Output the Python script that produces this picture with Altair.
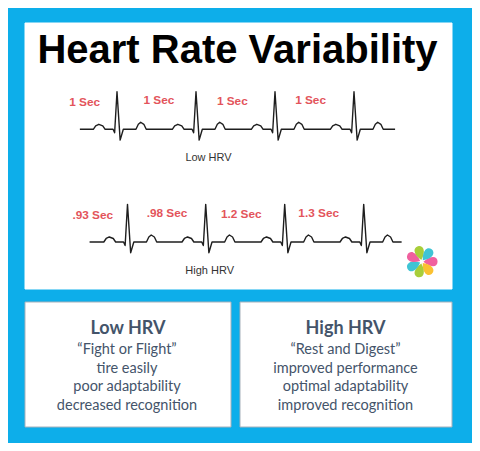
import altair as alt
import pandas as pd

# ---------------- data ----------------
title_text = "Heart Rate Variability"

# one ECG beat: time relative to the R peak (s) and amplitude (mV)
beat_t = [-0.30, -0.27, -0.23, -0.18, -0.15, -0.05, -0.03, 0.00, 0.04, 0.08, 0.24, 0.27, 0.30, 0.34, 0.37]
beat_v = [0.00, 0.14, 0.20, 0.14, 0.00, 0.00, -0.14, 1.50, -0.43, 0.00, 0.00, 0.20, 0.28, 0.20, 0.00]

low_r_times = [0.0, 1.0, 2.0, 3.0]
low_span = [-0.47, 3.52]
high_r_times = [0.0, 0.99, 1.99, 2.99]
high_span = [-0.48, 3.47]

low_labels = ["1 Sec", "1 Sec", "1 Sec", "1 Sec"]
low_label_t = [-0.41, 0.53, 1.46, 2.45]
low_label_v = [0.93, 1.00, 0.97, 1.00]
high_labels = [".93 Sec", ".98 Sec", "1.2 Sec", "1.3 Sec"]
high_label_t = [-0.44, 0.50, 1.44, 2.42]
high_label_v = [0.93, 1.00, 0.95, 1.00]

trace_captions = ["Low HRV", "High HRV"]

box_headings = ["Low HRV", "High HRV"]
low_box_lines = ["\u201cFight or Flight\u201d", "tire easily", "poor adaptability", "decreased recognition"]
high_box_lines = ["\u201cRest and Digest\u201d", "improved performance", "optimal adaptability", "improved recognition"]

petal_angles = [0, 51, 103, 154, 206, 257, 309]
petal_colors = ["#F0609E", "#FBC131", "#A8CE3A", "#3FC4D4", "#F0609E", "#A8CE3A", "#3FC4D4"]

# ---------------- layout / style ----------------
W, H = 464, 435
X0, Y0 = 8, 8
BLUE = "#0DAEEA"
BOX_TEXT = "#44546A"
RED = "#E3545B"

PX_PER_S = 79.0
PX_PER_MV = 25.07
LOW_ORIGIN = (117.0, 129.3)    # first R peak x, baseline y
HIGH_ORIGIN = (127.5, 242.0)

CX = alt.Scale(domain=[X0, X0 + W], zero=False, nice=False)
CY = alt.Scale(domain=[Y0, Y0 + H], reverse=True, zero=False, nice=False)


def ecg_scales(origin):
    ox, oy = origin
    xs = alt.Scale(domain=[(X0 - ox) / PX_PER_S, (X0 + W - ox) / PX_PER_S], zero=False, nice=False)
    ys = alt.Scale(domain=[(oy - (Y0 + H)) / PX_PER_MV, (oy - Y0) / PX_PER_MV], zero=False, nice=False)
    return xs, ys


def trace_df(r_times, span):
    ts, vs = [span[0]], [0.0]
    for r in r_times:
        for t, v in zip(beat_t, beat_v):
            ts.append(r + t)
            vs.append(v)
    ts.append(span[1])
    vs.append(0.0)
    return pd.DataFrame({"t": ts, "mV": vs, "i": list(range(len(ts)))})


def cx(f):
    return alt.X(f, scale=CX, axis=None)


def cy(f):
    return alt.Y(f, scale=CY, axis=None)


# frame and panels
rects = pd.DataFrame({
    "x1": [4, 25, 25, 240],
    "x2": [472, 452, 231, 452],
    "y1": [4, 23, 302, 302],
    "y2": [445, 289, 427, 427],
    "fill": [BLUE, "#FFFFFF", "#FFFFFF", "#FFFFFF"],
    "stroke": [BLUE, "#FFFFFF", "#A7B1BB", "#A7B1BB"],
})
rect_layer = alt.Chart(rects).mark_rect(strokeWidth=1).encode(
    x=cx("x1:Q"), x2="x2:Q", y=cy("y1:Q"), y2="y2:Q",
    fill=alt.Fill("fill:N", scale=None), stroke=alt.Stroke("stroke:N", scale=None),
)

title_layer = alt.Chart(pd.DataFrame({"text": [title_text], "x": [237.5], "y": [63]})).mark_text(
    font="Liberation Sans", fontWeight="bold", fontSize=40, color="#000000",
    align="center", baseline="alphabetic",
).encode(x=cx("x:Q"), y=cy("y:Q"), text="text:N")


def ecg_layers(r_times, span, labels, lab_t, lab_v, origin):
    xs, ys = ecg_scales(origin)
    line = alt.Chart(trace_df(r_times, span)).mark_line(
        color="#1E1E1E", strokeWidth=1.4, strokeJoin="round"
    ).encode(
        x=alt.X("t:Q", scale=xs, axis=None),
        y=alt.Y("mV:Q", scale=ys, axis=None),
        order="i:Q",
    )
    labs = alt.Chart(pd.DataFrame({"text": labels, "t": lab_t, "mV": lab_v})).mark_text(
        font="Liberation Sans", fontWeight="bold", fontSize=11.8, color=RED,
        align="center", baseline="alphabetic",
    ).encode(
        x=alt.X("t:Q", scale=xs, axis=None),
        y=alt.Y("mV:Q", scale=ys, axis=None),
        text="text:N",
    )
    return [line, labs]


low_layers = ecg_layers(low_r_times, low_span, low_labels, low_label_t, low_label_v, LOW_ORIGIN)
high_layers = ecg_layers(high_r_times, high_span, high_labels, high_label_t, high_label_v, HIGH_ORIGIN)

caption_layer = alt.Chart(pd.DataFrame({
    "text": trace_captions, "x": [208.5, 209.7], "y": [161, 274]
})).mark_text(
    font="Liberation Sans", fontSize=11, color="#333333", align="center", baseline="alphabetic",
).encode(x=cx("x:Q"), y=cy("y:Q"), text="text:N")

heading_layer = alt.Chart(pd.DataFrame({
    "text": box_headings, "x": [128, 345.5], "y": [334, 334]
})).mark_text(
    font="Lato", fontWeight="bold", fontSize=18, color=BOX_TEXT, align="center", baseline="alphabetic",
).encode(x=cx("x:Q"), y=cy("y:Q"), text="text:N")

LINE0, LINE_GAP = 354.0, 18.5
lines_df = pd.DataFrame({
    "text": low_box_lines + high_box_lines,
    "x": [127] * len(low_box_lines) + [345.5] * len(high_box_lines),
    "y": [LINE0 + i * LINE_GAP for i in range(len(low_box_lines))]
    + [LINE0 + i * LINE_GAP for i in range(len(high_box_lines))],
})
lines_layer = alt.Chart(lines_df).mark_text(
    font="Lato", fontSize=14.5, color=BOX_TEXT, align="center", baseline="alphabetic",
).encode(x=cx("x:Q"), y=cy("y:Q"), text="text:N")

FLOWER_X, FLOWER_Y, PETAL_R = 421.7, 261.7, 8.8
PETAL = ("M0,1 C-0.5,0.45 -0.65,0 -0.65,-0.35 C-0.65,-0.75 -0.35,-1 0,-1 "
         "C0.35,-1 0.65,-0.75 0.65,-0.35 C0.65,0 0.5,0.45 0,1 Z")
petal_layer = alt.Chart(pd.DataFrame({"angle": petal_angles, "color": petal_colors})).transform_calculate(
    px=f"{FLOWER_X} + {PETAL_R} * cos(datum.angle * PI / 180)",
    py=f"{FLOWER_Y} + {PETAL_R} * sin(datum.angle * PI / 180)",
    rot="(datum.angle + 90) % 360",
).mark_point(shape=PETAL, filled=True, size=200, opacity=1, strokeWidth=0).encode(
    x=cx("px:Q"), y=cy("py:Q"),
    angle=alt.Angle("rot:Q", scale=None),
    fill=alt.Fill("color:N", scale=None),
)

chart = alt.layer(
    rect_layer, title_layer, *low_layers, *high_layers,
    caption_layer, heading_layer, lines_layer, petal_layer,
).resolve_scale(x="independent", y="independent").properties(
    width=W, height=H, padding=0, autosize=alt.AutoSizeParams(type="none"),
).configure_view(stroke=None)

chart.save("out.html", embed_options={"renderer": "svg", "actions": False})
